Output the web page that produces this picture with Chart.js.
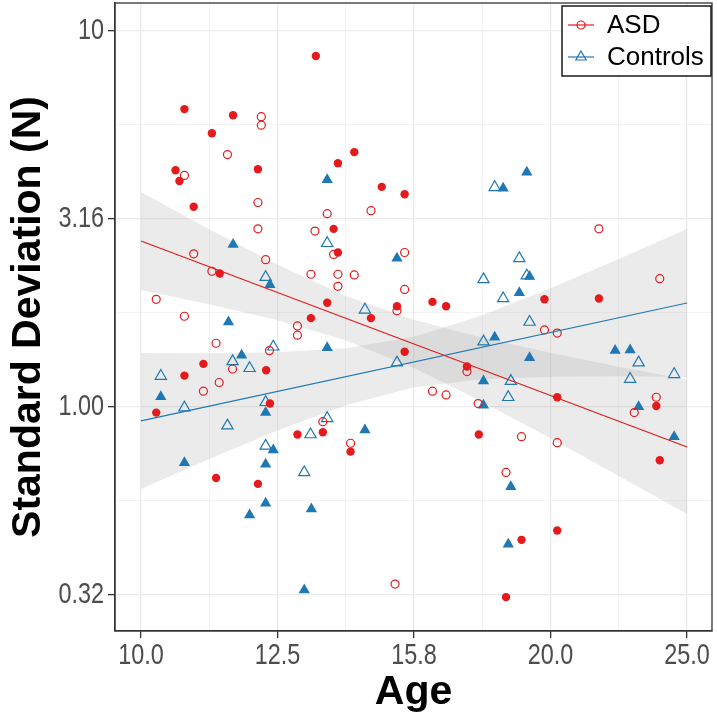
<!DOCTYPE html>
<html>
<head>
<meta charset="utf-8">
<script src="https://cdn.jsdelivr.net/npm/chart.js@4.4.0/dist/chart.umd.min.js"></script>
<style>
  body { margin: 0; background: #fff; }
</style>
</head>
<body>
<canvas id="chart" width="717" height="719"></canvas>
<script>
// values (age in years, SD in N)
const asdFilledAge = [10.76, 11.68, 11.27, 10.60, 10.67, 12.18, 10.93, 11.42, 13.43, 14.33, 13.94, 15.01, 15.60, 13.84, 13.94, 19.75, 21.65, 13.32, 12.35, 11.11, 10.76, 10.26, 12.43, 13.02, 11.35, 12.18, 14.24, 13.69, 15.40, 16.35, 16.73, 14.74, 15.60, 17.33, 13.59, 17.68, 20.18, 23.85, 23.99, 20.18, 19.00, 18.51];
const asdFilledSD = [6.18, 5.95, 5.33, 4.25, 3.98, 4.28, 3.40, 2.26, 8.55, 4.75, 4.44, 3.84, 3.67, 2.97, 2.57, 1.93, 1.94, 1.72, 1.25, 1.30, 1.21, 0.965, 1.02, 0.844, 0.647, 0.624, 0.760, 1.89, 1.85, 1.90, 1.85, 1.72, 1.40, 1.28, 0.856, 0.844, 1.06, 1.005, 0.721, 0.469, 0.443, 0.312];

const asdOpenAge = [12.25, 12.25, 11.57, 10.76, 12.18, 12.18, 10.93, 12.34, 11.27, 14.74, 13.69, 13.41, 13.84, 15.60, 13.32, 13.94, 14.33, 21.65, 23.99, 19.75, 20.18, 10.26, 10.76, 13.02, 13.02, 11.35, 12.42, 11.67, 11.41, 11.11, 13.94, 15.60, 15.40, 17.33, 16.35, 16.73, 17.66, 13.59, 14.24, 15.35, 23.85, 22.98, 19.00, 20.18, 18.51];
const asdOpenSD = [5.90, 5.60, 4.68, 4.12, 3.49, 2.97, 2.55, 2.46, 2.29, 3.32, 3.26, 2.93, 2.54, 2.57, 2.25, 2.25, 2.24, 2.97, 2.19, 1.60, 1.57, 1.93, 1.74, 1.64, 1.55, 1.475, 1.41, 1.26, 1.16, 1.10, 2.09, 2.05, 1.80, 1.24, 1.10, 1.075, 1.02, 0.913, 0.800, 0.338, 1.06, 0.965, 0.833, 0.803, 0.669];

const ctrlFilledAge = [11.68, 12.43, 13.69, 15.40, 19.17, 18.42, 19.26, 18.93, 18.16, 19.26, 22.25, 22.82, 17.82, 17.82, 23.15, 24.58, 18.66, 18.58, 11.59, 11.85, 10.34, 12.34, 12.50, 10.76, 12.34, 12.34, 12.01, 13.33, 13.17, 13.69, 14.59];
const ctrlFilledSD = [2.70, 2.11, 4.01, 2.48, 4.20, 3.81, 2.22, 2.01, 1.53, 1.35, 1.41, 1.415, 1.17, 1.01, 1.00, 0.833, 0.613, 0.431, 1.68, 1.37, 1.064, 0.965, 0.768, 0.710, 0.703, 0.554, 0.516, 0.535, 0.326, 1.436, 0.868];

const ctrlOpenAge = [12.34, 13.69, 18.16, 18.93, 19.17, 17.82, 18.42, 19.26, 17.82, 23.15, 24.58, 22.82, 18.66, 18.58, 12.50, 11.67, 12.01, 10.34, 10.76, 12.34, 11.57, 13.31, 12.34, 13.17, 14.59, 15.40, 13.69];
const ctrlOpenSD = [2.21, 2.72, 3.83, 2.48, 2.23, 2.18, 1.94, 1.68, 1.49, 1.31, 1.22, 1.185, 1.17, 1.06, 1.444, 1.32, 1.266, 1.207, 0.9945, 1.028, 0.891, 0.844, 0.787, 0.669, 1.81, 1.31, 0.932];

// regression lines and confidence ribbons
const fitAge = [10, 25.12];
const asdFitSD = [2.758, 0.782];
const ctrlFitSD = [0.917, 1.887];

const bandAge = [10, 11.22, 12.59, 14.13, 15.85, 17.78, 19.95, 22.39, 25.12];
const asdUpper = [3.722, 2.965, 2.386, 1.970, 1.702, 1.526, 1.392, 1.278, 1.179];
const asdLower = [2.044, 1.874, 1.698, 1.499, 1.267, 1.032, 0.825, 0.655, 0.519];
const ctrlUpper = [1.390, 1.388, 1.395, 1.430, 1.535, 1.751, 2.065, 2.469, 2.968];
const ctrlLower = [0.605, 0.726, 0.865, 1.010, 1.127, 1.184, 1.202, 1.205, 1.200];

// axis breaks
const xMajor = [10, 12.589, 15.849, 19.953, 25.119];
const xMinor = [11.220, 14.125, 17.783, 22.387];
const xTickLabels = ['10.0', '12.5', '15.8', '20.0', '25.0'];
const yMajor = [0.31623, 1, 3.1623, 10];
const yMinor = [0.56234, 1.7783, 5.6234];
const yTickLabels = ['0.32', '1.00', '3.16', '10'];

const RED = '#e41a1c';
const BLUE = '#1f78b4';
const BAND = 'rgba(153,153,153,0.2)';
const FONT = "'Liberation Sans', Arial, sans-serif";

function pts(xs, ys) {
    return xs.map((x, i) => ({x: x, y: ys[i]}));
}

function isMajor(list, ctx) {
    return ctx.tick && list.includes(ctx.tick.value);
}

// tick labels in the figure are tall and narrow, so squeeze them a bit
function squeezedText(ctx, text, x, y, align) {
    ctx.save();
    ctx.translate(x, y);
    ctx.scale(0.78, 1);
    ctx.textAlign = align;
    ctx.textBaseline = 'middle';
    ctx.fillText(text, 0, 0);
    ctx.restore();
}

// tick labels, legend box + panel border drawn on top, like ggplot
const extras = {
    id: 'extras',
    afterDraw(chart) {
        const ctx = chart.ctx;
        const a = chart.chartArea;
        const sx = chart.scales.x, sy = chart.scales.y;
        ctx.save();
        ctx.strokeStyle = '#333333';
        ctx.lineWidth = 1.3;
        ctx.strokeRect(a.left, a.top, a.right - a.left, a.bottom - a.top);

        ctx.fillStyle = '#4d4d4d';
        ctx.font = '30px ' + FONT;
        xMajor.forEach((v, i) => squeezedText(ctx, xTickLabels[i], sx.getPixelForValue(v), a.bottom + 25, 'center'));
        yMajor.forEach((v, i) => squeezedText(ctx, yTickLabels[i], a.left - 11, sy.getPixelForValue(v), 'right'));

        const w = 149, h = 70;
        const bx = a.right - w - 1, by = a.top + 3;
        ctx.fillStyle = '#fff';
        ctx.fillRect(bx, by, w, h);
        ctx.strokeStyle = '#1a1a1a';
        ctx.lineWidth = 1.5;
        ctx.strokeRect(bx, by, w, h);

        const items = [
            {text: 'ASD', color: RED, style: 'circle', r: 4},
            {text: 'Controls', color: BLUE, style: 'triangle', r: 6}
        ];
        items.forEach((it, i) => {
            const cy = by + 19 + i * 32;
            ctx.strokeStyle = it.color;
            ctx.lineWidth = 1.2;
            ctx.beginPath();
            ctx.moveTo(bx + 6, cy);
            ctx.lineTo(bx + 32, cy);
            ctx.stroke();
            ctx.fillStyle = 'rgba(0,0,0,0)';
            Chart.helpers.drawPoint(ctx, {pointStyle: it.style, radius: it.r, borderWidth: 1.2, rotation: 0}, bx + 19, cy);
            ctx.fillStyle = '#000';
            ctx.font = '26px ' + FONT;
            ctx.textBaseline = 'middle';
            ctx.textAlign = 'left';
            ctx.fillText(it.text, bx + 45, cy + 1);
        });
        ctx.restore();
    }
};

new Chart(document.getElementById('chart'), {
    type: 'scatter',
    data: {
        datasets: [
            {type: 'line', data: pts(bandAge, asdUpper), borderWidth: 0, pointRadius: 0, fill: '+1', backgroundColor: BAND, order: 10},
            {type: 'line', data: pts(bandAge, asdLower), borderWidth: 0, pointRadius: 0, fill: false, order: 10},
            {type: 'line', data: pts(bandAge, ctrlUpper), borderWidth: 0, pointRadius: 0, fill: '+1', backgroundColor: BAND, order: 10},
            {type: 'line', data: pts(bandAge, ctrlLower), borderWidth: 0, pointRadius: 0, fill: false, order: 10},
            {data: pts(asdOpenAge, asdOpenSD), pointStyle: 'circle', pointRadius: 4, borderWidth: 1.2, borderColor: RED, backgroundColor: 'rgba(0,0,0,0)', order: 5},
            {data: pts(asdFilledAge, asdFilledSD), pointStyle: 'circle', pointRadius: 4.2, borderWidth: 0, backgroundColor: RED, order: 5},
            {data: pts(ctrlOpenAge, ctrlOpenSD), pointStyle: 'triangle', pointRadius: 6.5, borderWidth: 1.2, borderColor: BLUE, backgroundColor: 'rgba(0,0,0,0)', order: 5},
            {data: pts(ctrlFilledAge, ctrlFilledSD), pointStyle: 'triangle', pointRadius: 6.5, borderWidth: 0, backgroundColor: BLUE, order: 5},
            {type: 'line', data: pts(fitAge, asdFitSD), borderColor: RED, borderWidth: 1.2, pointRadius: 0, fill: false, order: 1},
            {type: 'line', data: pts(fitAge, ctrlFitSD), borderColor: BLUE, borderWidth: 1.2, pointRadius: 0, fill: false, order: 1}
        ]
    },
    options: {
        responsive: false,
        animation: false,
        events: [],
        layout: {autoPadding: false, padding: {left: 0, right: 5, top: 3, bottom: 0}},
        plugins: {legend: {display: false}, tooltip: {enabled: false}},
        scales: {
            x: {
                type: 'logarithmic',
                min: 9.571,
                max: 26.2,
                afterBuildTicks: s => { s.ticks = xMajor.concat(xMinor).sort((a, b) => a - b).map(v => ({value: v})); },
                afterFit: s => { s.height = 88; s.paddingLeft = 0; s.paddingRight = 0; },
                ticks: {display: false},
                grid: {
                    color: '#ebebeb',
                    lineWidth: c => isMajor(xMajor, c) ? 1.3 : 0.6,
                    tickLength: 7,
                    tickColor: c => isMajor(xMajor, c) ? '#333333' : 'rgba(0,0,0,0)',
                    tickWidth: 1.3
                },
                border: {color: '#333333', width: 1.3},
                title: {display: true, text: 'Age', color: '#000', font: {family: FONT, size: 41, weight: 'bold', lineHeight: 1}, padding: {top: 0, bottom: 6}}
            },
            y: {
                type: 'logarithmic',
                min: 0.2536,
                max: 11.83,
                afterBuildTicks: s => { s.ticks = yMajor.concat(yMinor).sort((a, b) => a - b).map(v => ({value: v})); },
                afterFit: s => { s.width = 115; s.paddingTop = 0; s.paddingBottom = 0; },
                ticks: {display: false},
                grid: {
                    color: '#ebebeb',
                    lineWidth: c => isMajor(yMajor, c) ? 1.3 : 0.6,
                    tickLength: 7,
                    tickColor: c => isMajor(yMajor, c) ? '#333333' : 'rgba(0,0,0,0)',
                    tickWidth: 1.3
                },
                border: {color: '#333333', width: 1.3},
                title: {display: true, text: 'Standard Deviation (N)', color: '#000', font: {family: FONT, size: 41, weight: 'bold', lineHeight: 1}, padding: {top: 8, bottom: 0}}
            }
        }
    },
    plugins: [extras]
});
</script>
</body>
</html>
